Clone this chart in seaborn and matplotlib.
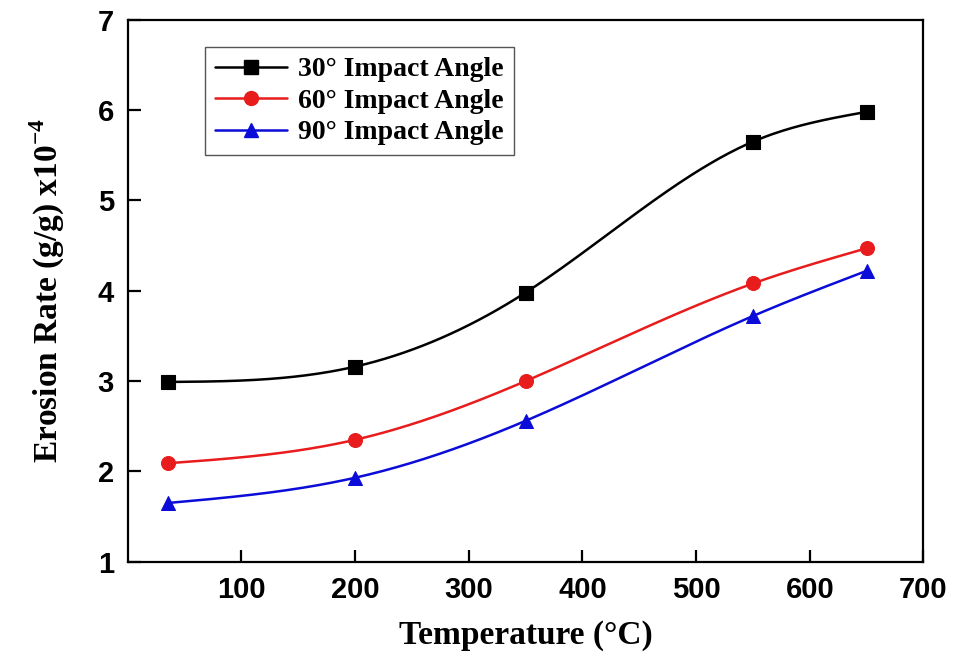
import numpy as np
import pandas as pd
import matplotlib
matplotlib.use("Agg")
import matplotlib.pyplot as plt
from matplotlib.lines import Line2D
import seaborn as sns

temps = [35, 200, 350, 550, 650]
rate_30 = [2.99, 3.16, 3.98, 5.65, 5.98]
rate_60 = [2.09, 2.35, 3.00, 4.08, 4.47]
rate_90 = [1.65, 1.93, 2.56, 3.72, 4.22]
series_labels = ["30\u00b0 Impact Angle", "60\u00b0 Impact Angle", "90\u00b0 Impact Angle"]
x_ticks = [100, 200, 300, 400, 500, 600, 700]
y_ticks = [1, 2, 3, 4, 5, 6, 7]


def natural_spline(x, y, n=300):
    x = np.asarray(x, float)
    y = np.asarray(y, float)
    k = len(x)
    h = np.diff(x)
    A = np.zeros((k, k))
    b = np.zeros(k)
    A[0, 0] = 1
    A[-1, -1] = 1
    for i in range(1, k - 1):
        A[i, i - 1] = h[i - 1]
        A[i, i] = 2 * (h[i - 1] + h[i])
        A[i, i + 1] = h[i]
        b[i] = 6 * ((y[i + 1] - y[i]) / h[i] - (y[i] - y[i - 1]) / h[i - 1])
    M = np.linalg.solve(A, b)
    xs = np.linspace(x[0], x[-1], n)
    idx = np.clip(np.searchsorted(x, xs) - 1, 0, k - 2)
    x0, x1 = x[idx], x[idx + 1]
    hh = x1 - x0
    ys = (M[idx] * (x1 - xs) ** 3 / (6 * hh) + M[idx + 1] * (xs - x0) ** 3 / (6 * hh)
          + (y[idx] / hh - M[idx] * hh / 6) * (x1 - xs)
          + (y[idx + 1] / hh - M[idx + 1] * hh / 6) * (xs - x0))
    return xs, ys


sns.set_style("ticks")
plt.rcParams["text.color"] = "black"
plt.rcParams["axes.labelcolor"] = "black"
plt.rcParams["xtick.color"] = "black"
plt.rcParams["ytick.color"] = "black"
plt.rcParams["mathtext.fontset"] = "custom"
plt.rcParams["mathtext.rm"] = "Liberation Serif:bold"
plt.rcParams["mathtext.bf"] = "Liberation Serif:bold"

fig = plt.figure(figsize=(9.54, 6.57), dpi=100)
ax = fig.add_axes([0.134, 0.145, 0.834, 0.825])

colors = ["#000000", "#e81c1c", "#0c0cd8"]
markers = ["s", "o", "^"]
handles = []
for vals, lab, c, m in zip([rate_30, rate_60, rate_90], series_labels, colors, markers):
    xs, ys = natural_spline(temps, vals)
    sns.lineplot(x=xs, y=ys, ax=ax, color=c, linewidth=1.8, sort=False, estimator=None)
    sns.scatterplot(x=temps, y=vals, ax=ax, color=c, marker=m, s=100, edgecolor=c,
                    linewidth=0.8, zorder=5)
    handles.append(Line2D([0], [0], color=c, marker=m, markersize=10, linewidth=1.8, label=lab))

ax.set_xlim(0, 700)
ax.set_ylim(1, 7)
ax.set_xticks(x_ticks)
ax.set_yticks(y_ticks)
ax.tick_params(direction="in", length=9, width=1.6, top=False, right=False, pad=10,
               colors="black")
for lbl in ax.get_xticklabels() + ax.get_yticklabels():
    lbl.set_fontfamily("Liberation Sans")
    lbl.set_fontweight("bold")
    lbl.set_fontsize(21)
    lbl.set_color("black")
for sp in ax.spines.values():
    sp.set_linewidth(1.6)
    sp.set_color("black")
    sp.set_visible(True)

ax.set_xlabel("Temperature (\u00b0C)", fontfamily="Liberation Serif", fontweight="bold",
              fontsize=24, labelpad=12, color="black")
ax.set_ylabel("Erosion Rate (g/g) x10$^{-4}$", fontfamily="Liberation Serif",
              fontweight="bold", fontsize=24, labelpad=22, color="black")

leg = ax.legend(handles=handles, loc="upper left", bbox_to_anchor=(0.08, 0.975),
                frameon=True, fancybox=False, edgecolor="#555555", framealpha=1,
                prop={"family": "Liberation Serif", "weight": "bold", "size": 20},
                handlelength=2.6, borderpad=0.35, labelspacing=0.22, handletextpad=0.4)
leg.get_frame().set_linewidth(1.0)
for t in leg.get_texts():
    t.set_color("black")

fig.savefig("out.png", dpi=100)
